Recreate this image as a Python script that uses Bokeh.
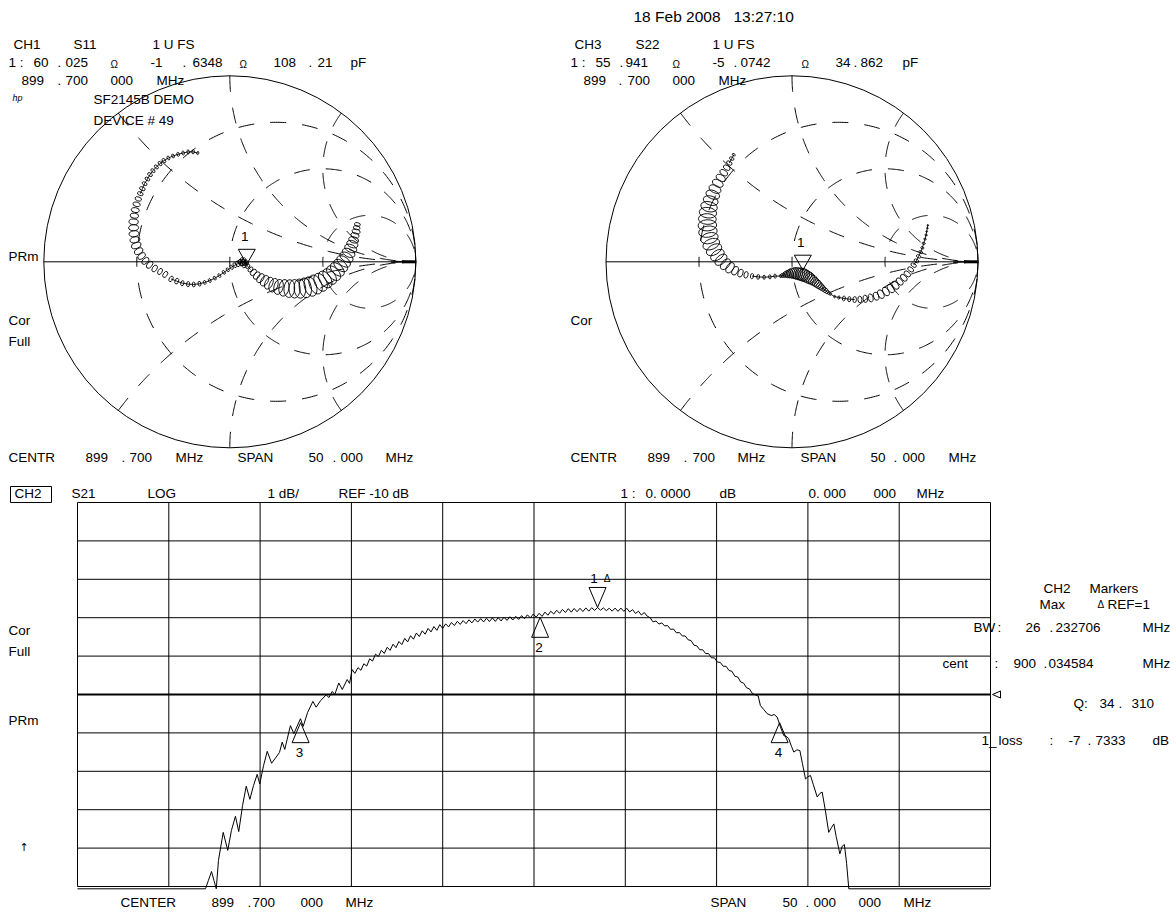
import numpy as np
from bokeh.plotting import figure
from bokeh.models import Range1d
from bokeh.embed import file_html
from bokeh.resources import INLINE
from bokeh.core.properties import value

# ---------------------------------------------------------------- data
# CH2  S21 log magnitude trace (MHz, dB); values below -15 dB are clipped by the display
s21_left_freq = [874.70, 881.71, 881.87, 882.04, 882.17, 882.30, 882.42, 882.68, 882.93, 883.13,
                 883.35, 883.53, 883.74, 883.94, 884.14, 884.34, 884.54, 884.68, 884.89, 885.09,
                 885.33, 885.58, 885.76, 885.91, 886.05, 886.36, 886.55, 886.91, 887.06, 887.30,
                 887.59, 887.77, 888.01, 888.32, 888.47, 888.65, 888.79, 889.01, 889.20, 889.47,
                 889.60, 889.74, 889.89]
s21_left_db = [-15.06, -15.06, -14.84, -14.61, -14.84, -15.06, -14.32, -13.59, -14.06, -13.54,
               -13.17, -13.57, -12.89, -12.39, -12.73, -12.37, -12.08, -12.33, -11.85, -11.48,
               -11.79, -11.63, -11.51, -11.24, -11.43, -10.81, -11.02, -10.63, -10.83, -10.47,
               -10.18, -10.33, -10.16, -10.01, -10.08, -9.92, -10.00, -9.70, -9.87, -9.61,
               -9.71, -9.35, -9.45]
s21_pass_freq = [890.06, 890.22, 890.38, 890.54, 890.70, 890.86, 891.02, 891.18, 891.34, 891.50,
                 891.66, 891.82, 891.98, 892.14, 892.30, 892.46, 892.62, 892.78, 892.94, 893.10,
                 893.26, 893.42, 893.58, 893.74, 893.90, 894.06, 894.22, 894.38, 894.54, 894.70,
                 894.86, 895.02, 895.18, 895.34, 895.50, 895.66, 895.82, 895.98, 896.14, 896.30,
                 896.46, 896.62, 896.78, 896.94, 897.10, 897.26, 897.42, 897.58, 897.74, 897.90,
                 898.06, 898.22, 898.38, 898.54, 898.70, 898.86, 899.02, 899.18, 899.34, 899.50,
                 899.66, 899.82, 899.98, 900.14, 900.30, 900.46, 900.62, 900.78, 900.94, 901.10,
                 901.26, 901.42, 901.58, 901.74, 901.90, 902.06, 902.22, 902.38, 902.54, 902.70,
                 902.86, 903.02, 903.18, 903.34, 903.50, 903.66, 903.82, 903.98, 904.14, 904.30,
                 904.46, 904.62, 904.78, 904.94, 905.10, 905.26, 905.42, 905.58, 905.74, 905.90]
s21_pass_db = [-9.30, -9.37, -9.20, -9.26, -9.07, -9.13, -8.95, -9.01, -8.85, -8.93,
               -8.77, -8.85, -8.69, -8.78, -8.62, -8.70, -8.54, -8.63, -8.47, -8.56,
               -8.40, -8.49, -8.34, -8.43, -8.28, -8.37, -8.23, -8.33, -8.18, -8.28,
               -8.16, -8.24, -8.125, -8.205, -8.095, -8.175, -8.075, -8.155, -8.055, -8.135,
               -8.035, -8.115, -8.025, -8.11, -8.015, -8.10, -8.005, -8.095, -8.00, -8.085,
               -7.985, -8.07, -7.975, -8.06, -7.965, -8.045, -7.945, -8.025, -7.925, -8.005,
               -7.905, -7.985, -7.885, -7.965, -7.855, -7.935, -7.83, -7.905, -7.805, -7.885,
               -7.785, -7.865, -7.765, -7.855, -7.76, -7.845, -7.755, -7.84, -7.745, -7.83,
               -7.74, -7.81, -7.733, -7.805, -7.745, -7.815, -7.755, -7.83, -7.75, -7.835,
               -7.75, -7.835, -7.755, -7.85, -7.79, -7.89, -7.83, -7.93, -7.865, -7.96]
s21_right_freq = [906.06, 906.22, 906.38, 906.54, 906.70, 906.86, 907.02, 907.18, 907.34, 907.50,
                  907.66, 907.82, 907.98, 908.14, 908.30, 908.46, 908.62, 908.78, 908.94, 909.10,
                  909.26, 909.42, 909.58, 909.74, 909.90, 910.06, 910.22, 910.38, 910.54, 910.70,
                  910.86, 911.02, 911.18, 911.34, 911.50, 911.66, 911.82, 911.98, 912.10, 912.30,
                  912.47, 912.70, 912.85, 913.02, 913.20, 913.38, 913.55, 913.65, 913.80, 913.93,
                  914.10, 914.26, 914.40, 914.57, 914.70, 914.84, 915.00, 915.21, 915.35, 915.48,
                  915.65, 915.84, 916.00, 916.12, 916.25, 916.45, 916.58, 916.70, 916.82, 916.94,
                  924.70]
s21_right_db = [-8.00, -8.11, -8.085, -8.165, -8.135, -8.215, -8.205, -8.305, -8.295, -8.395,
                -8.385, -8.475, -8.475, -8.575, -8.595, -8.715, -8.735, -8.835, -8.835, -8.935,
                -8.935, -9.045, -9.045, -9.155, -9.165, -9.265, -9.265, -9.375, -9.395, -9.525,
                -9.545, -9.675, -9.705, -9.825, -9.855, -9.975, -10.01, -10.04, -10.29, -10.40,
                -10.50, -10.55, -10.52, -10.59, -10.85, -11.07, -11.10, -11.15, -11.35, -11.50,
                -11.44, -11.46, -11.80, -12.20, -12.14, -12.11, -12.35, -12.67, -12.58, -12.54,
                -13.00, -13.59, -13.46, -13.37, -13.70, -14.15, -13.95, -13.91, -14.40, -15.06,
                -15.06]

# S21 markers (MHz, dB)
marker_freq = [903.18, 900.0346, 886.9182, 913.1509]
marker_db = [-7.7333, -7.99, -10.7333, -10.7333]
marker_names = ["1", "2", "3", "4"]

# display settings
center_mhz, span_mhz = 899.7, 50.0
ref_db, db_per_div = -10.0, 1.0
freq_grid = [874.7, 879.7, 884.7, 889.7, 894.7, 899.7, 904.7, 909.7, 914.7, 919.7, 924.7]
db_grid = [-15, -14, -13, -12, -11, -10, -9, -8, -7, -6, -5]

# Smith chart graticule values (normalised resistance circles / reactance arcs)
r_circles = [1 / 3, 1.0, 3.0]
x_arcs = [0.5, 1.0, 2.0]
Z0 = 50.0

# Smith marker readouts (ohm)
s11_marker_ohm = (60.025, -1.6348)
s22_marker_ohm = (55.941, -5.0742)

# S11 trace loops: centre (Re, Im of reflection coefficient) and loop size
s11_arc_re = [-0.172, -0.197, -0.224, -0.251, -0.278, -0.305, -0.330, -0.354, -0.375, -0.395,
              -0.413, -0.429, -0.443, -0.458, -0.470, -0.481, -0.492, -0.501, -0.508, -0.513,
              -0.517, -0.517, -0.515, -0.510, -0.503, -0.490, -0.474, -0.454, -0.431, -0.404,
              -0.375, -0.347, -0.316, -0.285, -0.255, -0.224, -0.194, -0.163, -0.135, -0.108,
              -0.081, -0.056, -0.032, -0.011, 0.009, 0.027, 0.043]
s11_arc_im = [0.585, 0.591, 0.591, 0.585, 0.578, 0.569, 0.558, 0.544, 0.528, 0.510,
              0.490, 0.469, 0.445, 0.420, 0.393, 0.366, 0.338, 0.309, 0.278, 0.248,
              0.215, 0.183, 0.151, 0.118, 0.088, 0.057, 0.031, 0.005, -0.016, -0.036,
              -0.052, -0.068, -0.092, -0.104, -0.115, -0.120, -0.122, -0.118, -0.111, -0.101,
              -0.088, -0.074, -0.057, -0.043, -0.029, -0.018, -0.011]
s11_arc_loop = [0.009, 0.011, 0.011, 0.011, 0.011, 0.011, 0.011, 0.013, 0.013, 0.013,
                0.013, 0.014, 0.014, 0.014, 0.016, 0.016, 0.018, 0.020, 0.022, 0.023,
                0.025, 0.027, 0.027, 0.027, 0.027, 0.025, 0.023, 0.023, 0.022, 0.020,
                0.018, 0.018, 0.016, 0.016, 0.014, 0.014, 0.013, 0.013, 0.011, 0.011,
                0.011, 0.011, 0.011, 0.011, 0.013, 0.014, 0.016]
s11_knot_re = [0.054, 0.057, 0.066, 0.070, 0.075, 0.081, 0.090, 0.072]
s11_knot_im = [0.002, -0.005, 0.007, -0.004, 0.004, -0.007, -0.002, -0.014]
s11_knot_loop = [0.014, 0.018, 0.016, 0.018, 0.018, 0.016, 0.014, 0.020]
s11_cres_re = [0.084, 0.097, 0.111, 0.127, 0.145, 0.165, 0.187, 0.210, 0.235, 0.262,
               0.291, 0.320, 0.348, 0.377, 0.406, 0.434, 0.461, 0.488, 0.513, 0.537,
               0.558, 0.578, 0.596, 0.612, 0.627, 0.639, 0.650, 0.659, 0.666, 0.673,
               0.679, 0.682, 0.686]
s11_cres_im = [-0.011, -0.025, -0.041, -0.057, -0.074, -0.088, -0.102, -0.115, -0.126, -0.135,
               -0.140, -0.144, -0.145, -0.144, -0.140, -0.133, -0.122, -0.110, -0.095, -0.079,
               -0.061, -0.041, -0.020, 0.002, 0.025, 0.048, 0.072, 0.095, 0.118, 0.142,
               0.163, 0.183, 0.201]
s11_cres_loop = [0.009, 0.013, 0.016, 0.020, 0.023, 0.027, 0.031, 0.034, 0.038, 0.041,
                 0.045, 0.048, 0.050, 0.052, 0.054, 0.054, 0.054, 0.052, 0.050, 0.048,
                 0.047, 0.045, 0.043, 0.041, 0.039, 0.036, 0.034, 0.031, 0.027, 0.023,
                 0.022, 0.018, 0.016]

# S22 trace loops
s22_arc_re = [-0.313, -0.324, -0.337, -0.351, -0.367, -0.383, -0.399, -0.414, -0.426, -0.437,
              -0.446, -0.452, -0.455, -0.455, -0.452, -0.444, -0.434, -0.419, -0.401, -0.382,
              -0.358, -0.333, -0.306, -0.277, -0.247, -0.215, -0.182, -0.150, -0.119, -0.091]
s22_arc_im = [0.576, 0.555, 0.531, 0.506, 0.479, 0.451, 0.422, 0.391, 0.361, 0.329,
              0.296, 0.264, 0.230, 0.196, 0.162, 0.127, 0.095, 0.065, 0.036, 0.011,
              -0.013, -0.032, -0.048, -0.061, -0.070, -0.077, -0.081, -0.083, -0.081, -0.077]
s22_arc_loop = [0.009, 0.013, 0.016, 0.020, 0.023, 0.027, 0.031, 0.034, 0.038, 0.041,
                0.045, 0.047, 0.048, 0.050, 0.050, 0.048, 0.047, 0.045, 0.041, 0.038,
                0.034, 0.031, 0.025, 0.022, 0.018, 0.014, 0.013, 0.011, 0.011, 0.011]
s22_knot_re = [-0.062, -0.053, -0.044, -0.035, -0.026, -0.017, -0.008, 0.001, 0.010, 0.019,
               0.028, 0.037, 0.046, 0.055, 0.064, 0.073, 0.082, 0.091, 0.100, 0.109,
               0.118, 0.127, 0.136, 0.145, 0.154, 0.162, 0.171, 0.180, 0.189, 0.198, 0.207]
s22_knot_im = [-0.077, -0.074, -0.072, -0.068, -0.066, -0.065, -0.063, -0.061, -0.061, -0.061,
               -0.063, -0.065, -0.066, -0.068, -0.072, -0.075, -0.081, -0.086, -0.092, -0.097,
               -0.104, -0.111, -0.118, -0.126, -0.133, -0.140, -0.147, -0.154, -0.162, -0.167, -0.174]
s22_knot_loop = [0.009, 0.011, 0.014, 0.016, 0.020, 0.022, 0.025, 0.027, 0.029, 0.031,
                 0.032, 0.032, 0.034, 0.034, 0.034, 0.032, 0.032, 0.031, 0.029, 0.027,
                 0.025, 0.023, 0.022, 0.020, 0.018, 0.016, 0.014, 0.013, 0.011, 0.009, 0.007]
s22_tail_re = [0.229, 0.252, 0.279, 0.308, 0.337, 0.365, 0.394, 0.423, 0.452, 0.478,
               0.505, 0.531, 0.556, 0.579, 0.601, 0.620, 0.638, 0.654, 0.669, 0.681,
               0.692, 0.701, 0.708, 0.715, 0.721, 0.724, 0.728, 0.730]
s22_tail_im = [-0.187, -0.192, -0.197, -0.201, -0.203, -0.203, -0.199, -0.194, -0.185, -0.174,
               -0.160, -0.144, -0.126, -0.106, -0.086, -0.065, -0.041, -0.018, 0.005, 0.029,
               0.052, 0.075, 0.099, 0.122, 0.144, 0.163, 0.181, 0.197]
s22_tail_loop = [0.007, 0.009, 0.013, 0.014, 0.016, 0.018, 0.020, 0.022, 0.023, 0.025,
                 0.025, 0.025, 0.025, 0.023, 0.022, 0.020, 0.018, 0.016, 0.014, 0.013,
                 0.011, 0.009, 0.009, 0.007, 0.007, 0.005, 0.005, 0.005]

# ---------------------------------------------------------------- layout (picture pixels)
W, H = 1176, 912
S1_C = (229.3, 261.3)
S2_C = (791.5, 261.3)
SR = 186.0
LOG_X0, LOG_X1 = 77.0, 990.0
LOG_YREF, PX_PER_DB = 694.0, 38.4
MHZ_PX = span_mhz / (LOG_X1 - LOG_X0)
f_start = center_mhz - span_mhz / 2
f_stop = center_mhz + span_mhz / 2
LOOP_ASPECT = 0.6

p = figure(width=W, height=H, x_range=Range1d(0, W), y_range=Range1d(H, 0),
           x_axis_type=None, y_axis_type=None, toolbar_location=None,
           output_backend="svg", min_border=0, outline_line_color=None,
           background_fill_color="white", border_fill_color="white")
p.xgrid.visible = False
p.ygrid.visible = False


def smith_ranges(c):
    cx, cy = c
    return Range1d((0 - cx) / SR, (W - cx) / SR), Range1d((cy - H) / SR, cy / SR)


p.extra_x_ranges["s1x"], p.extra_y_ranges["s1y"] = smith_ranges(S1_C)
p.extra_x_ranges["s2x"], p.extra_y_ranges["s2y"] = smith_ranges(S2_C)
p.extra_x_ranges["fx"] = Range1d(f_start - LOG_X0 * MHZ_PX, f_start + (W - LOG_X0) * MHZ_PX)
p.extra_y_ranges["dby"] = Range1d(ref_db - (H - LOG_YREF) / PX_PER_DB * db_per_div,
                                  ref_db + LOG_YREF / PX_PER_DB * db_per_div)

FONT = "Liberation Sans"


def label(x, y, s, size="13.5px", font=FONT, style="normal", align="left"):
    p.text(x=[x], y=[y], text=[s], text_font=value(font), text_font_size=size,
           text_font_style=style, text_align=align, text_baseline="middle", text_color="black")


# ---------------------------------------------------------------- Smith charts
def smith(xr, yr, loops, marker_ohm):
    kw = dict(x_range_name=xr, y_range_name=yr)
    dash = dict(line_color="black", line_width=1, line_dash="16 16")
    for r in r_circles:
        c, rad = r / (1 + r), 1 / (1 + r)
        for th in (np.linspace(np.pi, 0, 240), np.linspace(np.pi, 2 * np.pi, 240)):
            p.line(c + rad * np.cos(th), rad * np.sin(th), line_dash_offset=11, **dash, **kw)
    for xv in x_arcs:
        for sgn in (1, -1):
            cxa, cya, rad = 1.0, sgn / xv, 1 / xv
            gx, gy = (xv ** 2 - 1) / (xv ** 2 + 1), sgn * 2 * xv / (xv ** 2 + 1)
            th0 = np.arctan2(gy - cya, gx - cxa)
            if sgn > 0:
                th0, th1 = th0 % (2 * np.pi), 1.5 * np.pi
            else:
                th0, th1 = -((-th0) % (2 * np.pi)), -1.5 * np.pi
            th = np.linspace(th0, th1, 240)
            p.line(cxa + rad * np.cos(th), cya + rad * np.sin(th), **dash, **kw)
    p.circle(x=[0], y=[0], radius=1, fill_color=None, line_color="black", line_width=1, **kw)
    p.line([-1, 1], [0, 0], line_color="black", line_width=1, **kw)
    p.line([0.925, 1.0], [0, 0], line_color="black", line_width=3, **kw)
    prev = None
    for re, im, lp in loops:
        re, im, lp = np.asarray(re), np.asarray(im), np.asarray(lp)
        ang = np.arctan2(np.gradient(im), np.gradient(re)) + np.pi / 2
        p.ellipse(x=re, y=im, width=2 * lp, height=2 * lp * LOOP_ASPECT, angle=ang,
                  fill_color=None, line_color="black", line_width=0.9, **kw)
        # thin trace joining the small loops
        xs, ys = [], []
        pts = list(zip(re, im, lp))
        if prev is not None:
            pts = [prev] + pts
        for a, b in zip(pts[:-1], pts[1:]):
            if a[2] <= 0.016 and b[2] <= 0.016:
                xs.append([a[0], b[0]]); ys.append([a[1], b[1]])
        if xs:
            p.multi_line(xs, ys, line_color="black", line_width=0.9, **kw)
        prev = pts[-1]
    z = complex(*marker_ohm) / Z0
    g = (z - 1) / (z + 1)
    hw, hh = 8.5 / SR, 15 / SR
    p.patch([g.real, g.real - hw, g.real + hw], [g.imag, g.imag + hh, g.imag + hh],
            fill_color=None, line_color="black", line_width=1, **kw)
    p.text(x=[g.real - 2 / SR], y=[g.imag + 28 / SR], text=["1"], text_font=value(FONT),
           text_font_size="13.5px", text_align="center", text_baseline="middle", **kw)


smith("s1x", "s1y", [(s11_arc_re, s11_arc_im, s11_arc_loop),
                     (s11_knot_re, s11_knot_im, s11_knot_loop),
                     (s11_cres_re, s11_cres_im, s11_cres_loop)], s11_marker_ohm)
smith("s2x", "s2y", [(s22_arc_re, s22_arc_im, s22_arc_loop),
                     (s22_knot_re, s22_knot_im, s22_knot_loop),
                     (s22_tail_re, s22_tail_im, s22_tail_loop)], s22_marker_ohm)

# ---------------------------------------------------------------- log-mag chart
kw = dict(x_range_name="fx", y_range_name="dby")
db_lo, db_hi = min(db_grid), max(db_grid)
p.segment(x0=freq_grid, y0=[db_lo] * len(freq_grid), x1=freq_grid, y1=[db_hi] * len(freq_grid),
          line_color="black", line_width=1, **kw)
p.segment(x0=[f_start] * len(db_grid), y0=db_grid, x1=[f_stop] * len(db_grid), y1=db_grid,
          line_color="black", line_width=1, **kw)
p.segment(x0=[f_start], y0=[ref_db], x1=[f_stop], y1=[ref_db], line_color="black", line_width=2.2, **kw)

s21_freq = s21_left_freq + s21_pass_freq + s21_right_freq
s21_db = s21_left_db + s21_pass_db + s21_right_db
n = min(len(s21_freq), len(s21_db))
p.line(s21_freq[:n], s21_db[:n], line_color="black", line_width=1, **kw)

tw, th_ = 8.5 * MHZ_PX, 20 / PX_PER_DB
xs, ys = [], []
for i, (f, d) in enumerate(zip(marker_freq, marker_db)):
    if i == 0:
        xs.append([f, f - tw, f + tw]); ys.append([d, d + th_, d + th_])
    else:
        xs.append([f, f - tw, f + tw]); ys.append([d, d - th_, d - th_])
p.patches(xs, ys, fill_color=None, line_color="black", line_width=1, **kw)
p.text(x=[marker_freq[0] - 3.5 * MHZ_PX], y=[marker_db[0] + 29 / PX_PER_DB], text=["1"],
       text_font=value(FONT), text_font_size="13.5px", text_align="center", text_baseline="middle", **kw)
p.text(x=[marker_freq[0] + 9.5 * MHZ_PX], y=[marker_db[0] + 29 / PX_PER_DB], text=["Δ"],
       text_font=value(FONT), text_font_size="10px", text_align="center", text_baseline="middle", **kw)
p.text(x=[f - 1 * MHZ_PX for f in marker_freq[1:]], y=[d - 30 / PX_PER_DB for d in marker_db[1:]],
       text=marker_names[1:], text_font=value(FONT), text_font_size="13.5px",
       text_align="center", text_baseline="middle", **kw)
p.patch([f_stop + 2 * MHZ_PX, f_stop + 10 * MHZ_PX, f_stop + 10 * MHZ_PX],
        [ref_db, ref_db + 3.5 / PX_PER_DB, ref_db - 3.5 / PX_PER_DB],
        fill_color=None, line_color="black", line_width=1, **kw)

# ---------------------------------------------------------------- annotations
label(633, 16, "18 Feb 2008", size="15.5px")
label(733, 16, "13:27:10", size="15.5px")

for (x, s) in [(13, "CH1"), (73, "S11"), (152, "1 U FS")]:
    label(x, 44, s)
for (x, s) in [(8, "1 :"), (33, "60"), (57, "."), (65, "025"), (150, "-1"), (182, "."),
               (192, "6348"), (273, "108"), (308, "."), (317, "21"), (350, "pF")]:
    label(x, 62, s)
label(110, 64, "Ω", size="10px")
label(239, 64, "Ω", size="10px")
for (x, s) in [(21, "899"), (57, "."), (65, "700"), (110, "000"), (156, "MHz")]:
    label(x, 80, s)
label(12, 97, "hp", size="9px", style="italic")
label(93, 99, "SF2145B DEMO")
label(93, 120, "DEVICE # 49")
label(8, 256, "PRm")
label(8, 320, "Cor")
label(8, 341, "Full")
for (x, s) in [(8, "CENTR"), (85, "899"), (121, "."), (129, "700"), (175, "MHz"), (237, "SPAN"),
               (308, "50"), (332, "."), (340, "000"), (385, "MHz")]:
    label(x, 457, s)

for (x, s) in [(574, "CH3"), (635, "S22"), (712, "1 U FS")]:
    label(x, 44, s)
for (x, s) in [(570, "1 :"), (595, "55"), (619, "."), (625, "941"), (712, "-5"), (733, "."),
               (740, "0742"), (835, "34"), (853, "."), (860, "862"), (902, "pF")]:
    label(x, 62, s)
label(672, 64, "Ω", size="10px")
label(801, 64, "Ω", size="10px")
for (x, s) in [(583, "899"), (618, "."), (627, "700"), (672, "000"), (718, "MHz")]:
    label(x, 80, s)
label(570, 320, "Cor")
for (x, s) in [(570, "CENTR"), (647, "899"), (683, "."), (692, "700"), (737, "MHz"), (800, "SPAN"),
               (870, "50"), (893, "."), (902, "000"), (948, "MHz")]:
    label(x, 457, s)

p.quad(left=[10], right=[51], top=[486], bottom=[502],
       fill_color=None, line_color="black", line_width=1)
for (x, s) in [(14, "CH2"), (71, "S21"), (147, "LOG"), (267, "1 dB/"), (338, "REF -10 dB"),
               (620, "1 :"), (645, "0. 0000"), (719, "dB"), (808, "0. 000"), (873, "000"), (916, "MHz")]:
    label(x, 493, s)
label(8, 630, "Cor")
label(8, 651, "Full")
label(8, 720, "PRm")
label(19, 847, "↑", font="DejaVu Sans", size="11px")
for (x, s) in [(120, "CENTER"), (211, "899"), (247, "."), (252, "700"), (300, "000"), (345, "MHz"),
               (710, "SPAN"), (782, "50"), (805, "."), (813, "000"), (858, "000"), (903, "MHz")]:
    label(x, 902, s)

label(1043, 588, "CH2")
label(1089, 588, "Markers")
label(1039, 604, "Max")
label(1097, 604, "Δ", size="10px")
label(1107, 604, "REF=1")
for (x, s) in [(973, "BW"), (997, ":"), (1025, "26"), (1049, "."), (1055, "232706"), (1142, "MHz")]:
    label(x, 627, s)
for (x, s) in [(942, "cent"), (994, ":"), (1013, "900"), (1043, "."), (1048, "034584"), (1142, "MHz")]:
    label(x, 663, s)
for (x, s) in [(1073, "Q:"), (1099, "34"), (1118, "."), (1131, "310")]:
    label(x, 703, s)
for (x, s) in [(981, "1_"), (998, "loss"), (1049, ":"), (1068, "-7"), (1087, "."), (1095, "7333"),
               (1152, "dB")]:
    label(x, 740, s)

open("out.html", "w").write(file_html(p, INLINE))
